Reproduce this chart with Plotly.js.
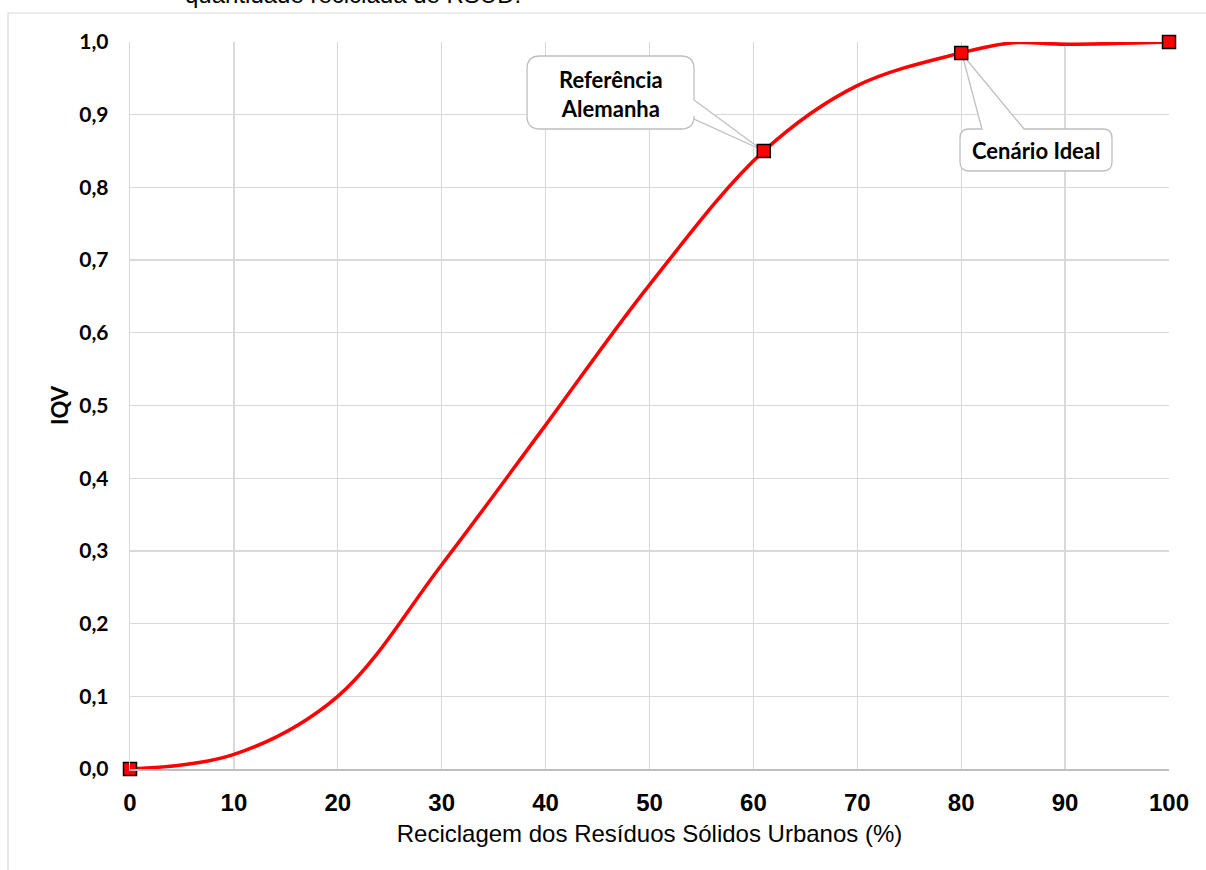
<!DOCTYPE html>
<html>
<head>
<meta charset="utf-8">
<script src="https://cdn.plot.ly/plotly-3.0.1.min.js"></script>
<style>
  html, body { margin: 0; padding: 0; background: #ffffff; }
  #chart { width: 1206px; height: 870px; }
</style>
</head>
<body>
<div id="chart"></div>
<script>
// ---- data ----
const curveX = [0, 10, 20, 30, 40, 50, 61, 70, 80, 85, 90, 100];
const curveY = [0, 0.02, 0.1, 0.281, 0.473, 0.666, 0.85, 0.94, 0.985, 0.999, 0.997, 1.0];
const keyX = [0, 61, 80, 100];
const keyY = [0, 0.85, 0.985, 1.0];
const xTickVals = [0, 10, 20, 30, 40, 50, 60, 70, 80, 90, 100];
const yTickVals = [0, 0.1, 0.2, 0.3, 0.4, 0.5, 0.6, 0.7, 0.8, 0.9, 1.0];
const xTitle = 'Reciclagem dos Resíduos Sólidos Urbanos (%)';
const yTitle = 'IQV';
const topText = 'quantidade reciclada de RSUD.';
const callout1Text = 'Referência<br>Alemanha';
const callout2Text = 'Cenário Ideal';

// ---- geometry helpers ----
const W = 1206, H = 870;
const M = {l: 130, r: 37, t: 42, b: 101};
const pw = W - M.l - M.r, ph = H - M.t - M.b;
const kx = pw / 100, ky = ph / 1;
function px2x(p) { return (p - M.l) / kx; }
function px2y(p) { return (H - M.b - p) / ky; }

function calloutPath(bx0, bx1, by0, by1, r, wedge) {
  const x0 = px2x(bx0), x1 = px2x(bx1), yT = px2y(by0), yB = px2y(by1);
  const rx = r / kx, ry = r / ky;
  let p = `M ${x0 + rx},${yT} `;
  if (wedge.side === 'top') {
    p += `L ${px2x(wedge.a)},${yT} L ${px2x(wedge.tx)},${px2y(wedge.ty)} L ${px2x(wedge.b)},${yT} `;
  }
  p += `L ${x1 - rx},${yT} Q ${x1},${yT} ${x1},${yT - ry} `;
  if (wedge.side === 'right') {
    p += `L ${x1},${px2y(wedge.a)} L ${px2x(wedge.tx)},${px2y(wedge.ty)} L ${x1},${px2y(wedge.b)} `;
  }
  p += `L ${x1},${yB + ry} Q ${x1},${yB} ${x1 - rx},${yB} `;
  p += `L ${x0 + rx},${yB} Q ${x0},${yB} ${x0},${yB + ry} `;
  p += `L ${x0},${yT - ry} Q ${x0},${yT} ${x0 + rx},${yT} Z`;
  return p;
}

const traces = [
  {
    x: curveX, y: curveY, type: 'scatter', mode: 'lines',
    line: {color: '#ff0000', width: 3.5, shape: 'spline', smoothing: 1},
    hoverinfo: 'skip', showlegend: false, cliponaxis: false
  },
  {
    x: keyX, y: keyY, type: 'scatter', mode: 'markers',
    marker: {symbol: 'square', size: 13, color: '#ff0000', line: {color: '#000000', width: 1.5}},
    showlegend: false, cliponaxis: false
  }
];

const shapes = [
  {type: 'rect', xref: 'paper', yref: 'paper',
   x0: (8 - M.l) / pw, x1: (1230 - M.l) / pw,
   y0: -(H + 40 - (H - M.b)) / ph, y1: 1 + (M.t - 13) / ph,
   line: {color: '#d9d9d9', width: 1.2}, fillcolor: 'rgba(0,0,0,0)', layer: 'below'},
  {type: 'path', xref: 'x', yref: 'y', layer: 'between',
   path: calloutPath(527, 694, 56, 129, 13, {side: 'right', a: 100, b: 119, tx: 762, ty: 150}),
   fillcolor: '#ffffff', line: {color: '#bfbfbf', width: 1.3}},
  {type: 'path', xref: 'x', yref: 'y', layer: 'between',
   path: calloutPath(960, 1112, 129, 171, 9, {side: 'top', a: 982, b: 1024, tx: 962, ty: 54}),
   fillcolor: '#ffffff', line: {color: '#bfbfbf', width: 1.3}}
];

const annotations = [
  {text: topText, xref: 'paper', yref: 'paper',
   x: (183 - M.l) / pw, y: 1 + (M.t - 10) / ph, xanchor: 'left', yanchor: 'bottom',
   showarrow: false, font: {family: 'Liberation Sans, Arial, sans-serif', size: 24, color: '#000'}},
  {text: '<b>' + callout1Text + '</b>', xref: 'x', yref: 'y',
   x: px2x(610.5), y: px2y(94), showarrow: false, align: 'center',
   font: {family: 'Lato, sans-serif', size: 22, color: '#000'}},
  {text: '<b>' + callout2Text + '</b>', xref: 'x', yref: 'y',
   x: px2x(1036), y: px2y(150), showarrow: false, align: 'center',
   font: {family: 'Lato, sans-serif', size: 22, color: '#000'}}
];

const layout = {
  width: W, height: H,
  margin: M,
  paper_bgcolor: '#ffffff', plot_bgcolor: '#ffffff',
  separators: ', ',
  showlegend: false,
  xaxis: {
    range: [0, 100], tickvals: xTickVals, ticks: '',
    ticklabelstandoff: 11,
    tickfont: {family: 'Liberation Sans, Arial, sans-serif', size: 24, color: '#000', weight: 'bold'},
    showgrid: true, gridcolor: '#d9d9d9', gridwidth: 1.3,
    zeroline: false, showline: true, linecolor: '#bfbfbf', linewidth: 2,
    title: {text: xTitle, standoff: 10, font: {family: 'Liberation Sans, Arial, sans-serif', size: 24, color: '#000'}},
    fixedrange: true
  },
  yaxis: {
    range: [0, 1], tickvals: yTickVals, tickformat: '.1f', ticks: '',
    ticklabelstandoff: 16,
    tickfont: {family: 'Lato, sans-serif', size: 21, color: '#000', weight: 'bold'},
    showgrid: true, gridcolor: '#d9d9d9', gridwidth: 1.3,
    zeroline: false, showline: true, linecolor: '#d9d9d9', linewidth: 1.3,
    title: {text: '<b>' + yTitle + '</b>', standoff: 4, font: {family: 'Lato, sans-serif', size: 22, color: '#000'}},
    fixedrange: true
  },
  shapes: shapes,
  annotations: annotations
};

Plotly.newPlot('chart', traces, layout, {displayModeBar: false, staticPlot: true});
</script>
</body>
</html>
